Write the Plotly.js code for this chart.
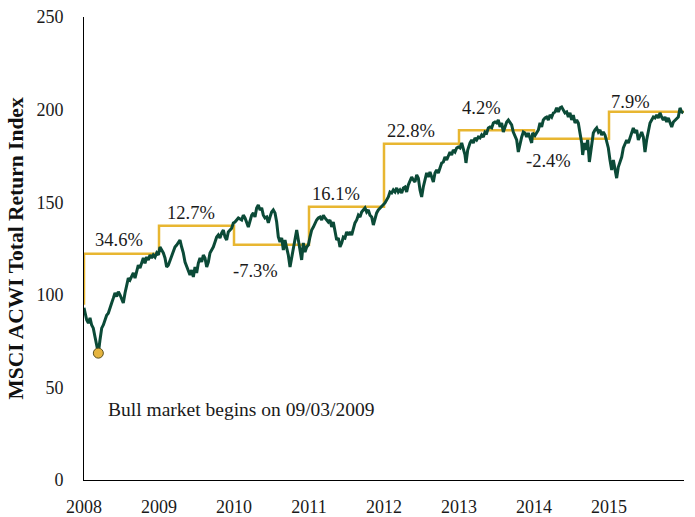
<!DOCTYPE html>
<html>
<head>
<meta charset="utf-8">
<script src="https://cdn.plot.ly/plotly-3.0.1.min.js"></script>
<style>html,body{margin:0;padding:0;background:#fff;}#chart{width:695px;height:517px;}</style>
</head>
<body>
<div id="chart"></div>
<script>
// Year labels shown on the axis
const yearTicks = [2008, 2009, 2010, 2011, 2012, 2013, 2014, 2015];
const yearLabels = ["2008", "2009", "2010", "2011", "2012", "2013", "2014", "2015"];

// MSCI ACWI total return index, x in decimal years
const idxX = [
2008.000,2008.036,2008.058,2008.080,2008.102,2008.124,2008.147,2008.169,2008.191,2008.213,2008.236,2008.258,2008.280,2008.302,2008.324,2008.347,2008.369,2008.391,2008.413,2008.436,2008.458,2008.480,2008.502,2008.524,2008.547,2008.569,2008.591,2008.613,2008.636,2008.658,2008.680,2008.702,2008.724,2008.747,2008.769,2008.791,2008.813,2008.836,2008.858,2008.880,2008.902,2008.924,2008.947,2008.969,2008.991,
2009.013,2009.036,2009.058,2009.080,2009.102,2009.124,2009.147,2009.169,2009.191,2009.213,2009.236,2009.258,2009.280,2009.302,2009.324,2009.347,2009.369,2009.391,2009.413,2009.436,2009.458,2009.480,2009.502,2009.524,2009.547,2009.569,2009.591,2009.613,2009.636,2009.658,2009.680,2009.702,2009.724,2009.747,2009.769,2009.791,2009.813,2009.836,2009.858,2009.880,2009.902,2009.924,2009.947,2009.969,2009.991,
2010.013,2010.058,2010.102,2010.124,2010.147,2010.191,2010.213,2010.236,2010.258,2010.280,2010.302,2010.324,2010.347,2010.369,2010.391,2010.413,2010.436,2010.458,2010.480,2010.502,2010.524,2010.547,2010.569,2010.591,2010.613,2010.636,2010.658,2010.680,2010.702,2010.724,2010.747,2010.769,2010.791,2010.813,2010.836,2010.858,2010.880,2010.902,2010.924,2010.947,2010.969,2010.991,
2011.013,2011.036,2011.058,2011.080,2011.102,2011.124,2011.147,2011.169,2011.191,2011.213,2011.258,2011.280,2011.302,2011.324,2011.347,2011.369,2011.391,2011.413,2011.436,2011.458,2011.480,2011.502,2011.524,2011.547,2011.569,2011.591,2011.613,2011.636,2011.658,2011.680,2011.702,2011.724,2011.747,2011.769,2011.791,2011.813,2011.836,2011.858,2011.880,2011.902,2011.924,2011.947,2011.969,2011.991,
2012.013,2012.058,2012.080,2012.102,2012.124,2012.147,2012.169,2012.191,2012.213,2012.236,2012.258,2012.280,2012.302,2012.324,2012.347,2012.369,2012.391,2012.413,2012.436,2012.458,2012.480,2012.502,2012.524,2012.547,2012.569,2012.591,2012.613,2012.636,2012.658,2012.680,2012.702,2012.724,2012.747,2012.769,2012.791,2012.813,2012.836,2012.858,2012.880,2012.902,2012.924,2012.947,2012.969,2012.991,
2013.013,2013.036,2013.058,2013.080,2013.093,2013.116,2013.147,2013.169,2013.191,2013.213,2013.236,2013.258,2013.280,2013.302,2013.324,2013.347,2013.369,2013.391,2013.413,2013.436,2013.458,2013.480,2013.502,2013.524,2013.547,2013.569,2013.591,2013.613,2013.636,2013.658,2013.680,2013.702,2013.724,2013.747,2013.769,2013.791,2013.813,2013.836,2013.858,2013.880,2013.902,2013.924,2013.947,2013.969,2013.982,
2014.013,2014.058,2014.080,2014.102,2014.124,2014.147,2014.169,2014.191,2014.213,2014.236,2014.258,2014.280,2014.302,2014.324,2014.347,2014.369,2014.391,2014.413,2014.436,2014.458,2014.480,2014.502,2014.524,2014.547,2014.569,2014.591,2014.613,2014.636,2014.649,2014.671,2014.689,2014.716,2014.738,2014.760,2014.791,2014.813,2014.836,2014.858,2014.880,2014.902,2014.924,2014.947,2014.969,2014.991,
2015.013,2015.036,2015.058,2015.080,2015.102,2015.124,2015.147,2015.169,2015.191,2015.213,2015.236,2015.258,2015.280,2015.302,2015.324,2015.347,2015.369,2015.391,2015.413,2015.436,2015.458,2015.480,2015.502,2015.524,2015.547,2015.569,2015.591,2015.613,2015.636,2015.658,2015.680,2015.702,2015.724,2015.747,2015.769,2015.791,2015.813,2015.836,2015.858,2015.880,2015.902,2015.924,2015.947,2015.969,2015.991
];
const idxY = [
93,86.4,84.8,87.5,83.7,82,77.2,71.8,68.4,75.6,82,83.7,86.4,89,90,93.4,95.6,98.2,101,99,101.7,100,97.2,95.6,101,105.3,109,108,109.6,111.8,109,113.4,116,114.5,117.7,119.9,117,120.4,118.8,121.5,119.9,121.5,120.4,122.6,121.5,
125.8,124.2,122.6,119.9,115,116,118.8,121.5,124.2,125.8,126.9,128.5,129.6,125.8,122.6,117.7,115,112.3,110.7,113.4,109.6,115,111.8,117,119.9,117.7,121.5,119.9,115,117.7,122.6,124.2,125.8,128.5,131.2,132.3,130.7,133.4,135,131.2,129.6,133.9,135,136,138.8,
139.3,141.5,140.4,143,141.5,136.6,139.3,143,144.2,142,146.9,148.5,145.8,146.9,143,141.5,142,138.8,142,144.7,145.8,144.2,139.3,131.2,128.5,130.7,124.2,129.6,125.3,121.5,115,120.4,125.8,129.6,135,129.6,124.2,118.8,128,123.1,125.8,126.9,
131.2,135,136.6,138.8,140.4,141.5,142,140.4,143,141.5,139.3,140.4,136.6,139.3,135,129.6,130.7,125.8,128,131.2,130.7,133.9,132.3,133.9,132.3,136,138.8,140.4,143,142,144.7,145.8,146.9,144.7,145.8,143,142,137.7,141.5,144.2,145.8,146.9,147.4,148.5,
149.6,152.8,155.5,155,156.6,155.5,157.7,155.5,156.6,155,157.7,158.2,155.5,159.3,162,163.6,162,160.9,164.7,163,156.6,152.8,158.2,162,165.8,163.6,166.3,163.6,160.9,165.8,167.4,165.8,169,171.2,171.7,174.4,172.8,175.5,177.1,175.5,178.2,177.1,179.3,179.8,
179.3,182,179.3,175.5,171.2,178.2,182,183.6,182,184.7,183.6,185.2,184.7,186.3,185.2,187.9,187.4,190.1,190.6,190.1,192.8,193.3,192.8,194.4,190.6,192.8,187.9,190.6,193.3,194.4,193.3,191.7,187.9,185.2,183.6,177.1,182,185.2,187.9,187.4,185.2,187.4,184.7,182,187.4,
186,189,192.8,190.6,194.4,195.5,196,194.4,197.1,196,198.2,198.7,200.9,198.7,200.9,201.4,199.8,198.2,198.7,196,198.2,194.4,197.1,192.8,194.4,192.8,187.4,182,175.5,182,178.2,183.6,171.7,179.3,187.4,189,190.1,187.9,189,186.3,187.9,186.3,182,179.3,
172.8,167.4,172.8,168.5,163,169,171.7,174.4,179.3,182,183.6,182,185.2,187.9,190.1,187.4,189,183.6,186.3,187.9,185.2,177.1,183.6,189,192.8,194.4,196,195.5,197.1,195.5,198.2,196,194.4,196,193.3,195.5,192.8,190.6,193.3,194.4,195.5,196,200.9,198.7,198.2
];

// Annual return steps: index level after each calendar year
const stepX = [2008, 2008, 2009, 2010, 2011, 2012, 2013, 2014, 2015, 2016];
const stepY = [94.6, 122.2, 137.3, 127, 147.6, 181.6, 188.8, 184.2, 198.9, 198.9];

// Annual return labels
const retText = ["34.6%", "12.7%", "-7.3%", "16.1%", "22.8%", "4.2%", "-2.4%", "7.9%"];
const retX = [2008.467, 2009.423, 2010.290, 2011.356, 2012.364, 2013.296, 2014.196, 2015.291];
const retY = [129.7, 144.4, 113.0, 154.6, 188.3, 200.7, 172.5, 204.2];

// Market bottom marker and note
const bottomX = [2008.191];
const bottomY = [68.5];
const noteText = "Bull market begins on 09/03/2009";
const noteX = 2008.293;
const noteY = 38.3;

const FONT = "'Palatino Linotype', 'Book Antiqua', Palatino, 'Liberation Serif', serif";
const GREEN = "#0b4a37";
const GOLD = "#e8b631";

const traces = [
  {x: stepX, y: stepY, type: "scatter", mode: "lines", line: {color: GOLD, width: 2.5, shape: "hv"}, hoverinfo: "skip"},
  {x: idxX, y: idxY, type: "scatter", mode: "lines", line: {color: GREEN, width: 3}, hoverinfo: "skip"},
  {x: bottomX, y: bottomY, type: "scatter", mode: "markers", marker: {color: "#e5b43f", size: 10, line: {color: "#5a5020", width: 1}}, hoverinfo: "skip"}
];

const annotations = retText.map((t, i) => ({
  x: retX[i], y: retY[i], xref: "x", yref: "y", text: t, showarrow: false,
  xanchor: "center", yanchor: "middle", font: {family: FONT, size: 18.5, color: "#1a1a1a"}
}));
annotations.push({
  x: noteX, y: noteY, xref: "x", yref: "y", text: noteText, showarrow: false,
  xanchor: "left", yanchor: "middle", font: {family: FONT, size: 19.5, color: "#1a1a1a"}
});

const layout = {
  width: 695, height: 517,
  margin: {l: 84, r: 11, t: 17, b: 37, pad: 0},
  paper_bgcolor: "#ffffff", plot_bgcolor: "#ffffff",
  showlegend: false,
  font: {family: FONT, size: 18, color: "#1a1a1a"},
  xaxis: {
    range: [2008, 2016], tickvals: yearTicks, ticktext: yearLabels,
    showgrid: false, zeroline: false, showline: true, linecolor: "#000", linewidth: 1,
    ticks: "outside", ticklen: 10, tickcolor: "rgba(0,0,0,0)",
    tickfont: {family: FONT, size: 18, color: "#1a1a1a"}, fixedrange: true
  },
  yaxis: {
    range: [0, 250], tickvals: [0, 50, 100, 150, 200, 250],
    showgrid: false, zeroline: false, showline: true, linecolor: "#000", linewidth: 1,
    ticks: "outside", ticklen: 16, tickcolor: "rgba(0,0,0,0)",
    tickfont: {family: FONT, size: 18, color: "#1a1a1a"},
    title: {text: "MSCI ACWI Total Return Index", font: {family: FONT, size: 21.5, color: "#111", weight: "bold"}, standoff: 6},
    fixedrange: true
  },
  annotations: annotations
};

Plotly.newPlot("chart", traces, layout, {displayModeBar: false, staticPlot: true});
</script>
</body>
</html>
